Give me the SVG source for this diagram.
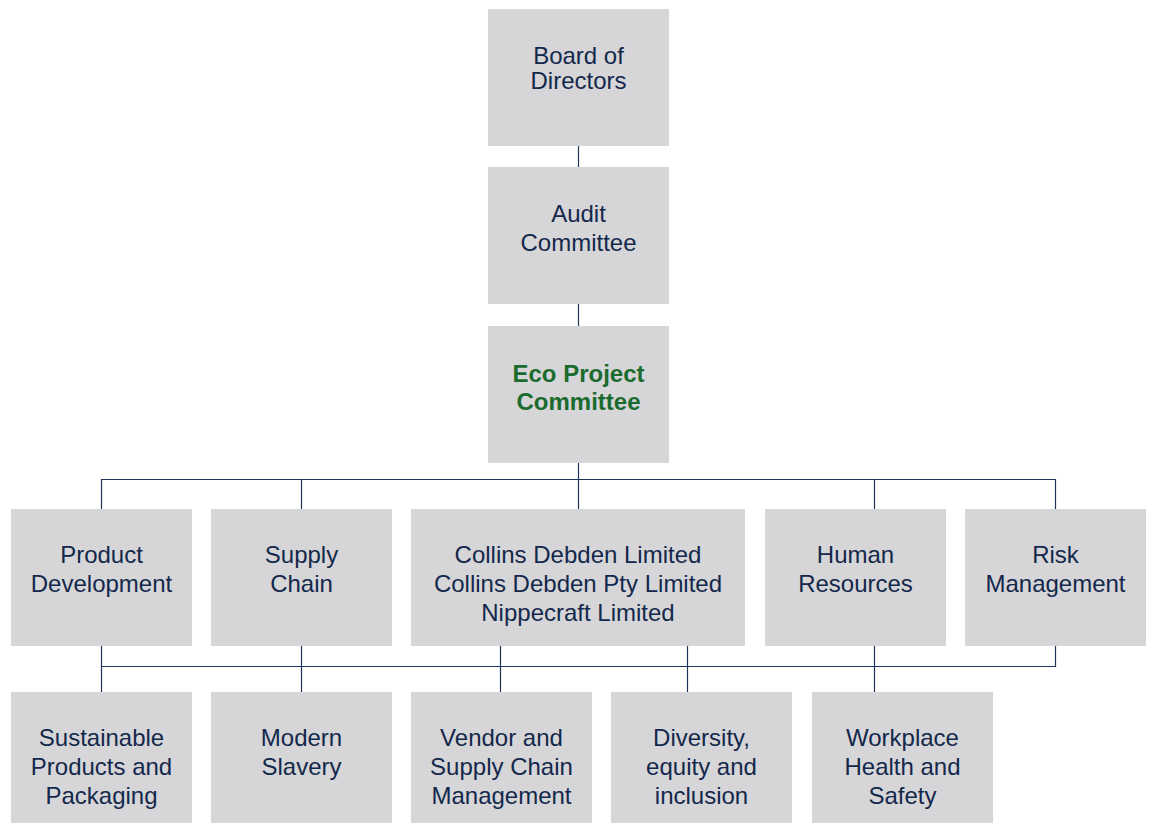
<svg xmlns="http://www.w3.org/2000/svg" width="1151" height="823" viewBox="0 0 1151 823">
  <style>
    .box { fill: #d6d6d8; }
    .lbl { font-family: "Liberation Sans", Arial, sans-serif; font-size: 24px; fill: #14284b; text-anchor: middle; }
    .eco { font-weight: bold; fill: #1b6b2f; }
    .wire { stroke: #1f3558; stroke-width: 1.2; fill: none; }
  </style>
  <rect width="1151" height="823" fill="#ffffff"/>

  <!-- connectors -->
  <g id="connectors">
    <path class="wire" d="M578.5 146 V167"/>
    <path class="wire" d="M578.5 304 V326"/>
    <path class="wire" d="M578.5 463 V509"/>
    <path class="wire" d="M101.5 509 V479.5 H1055.5 V509"/>
    <path class="wire" d="M301.5 479.5 V509"/>
    <path class="wire" d="M874.5 479.5 V509"/>
    <path class="wire" d="M101.5 646 V692"/>
    <path class="wire" d="M101.5 666.5 H1055.5 V646"/>
    <path class="wire" d="M301.5 646 V692"/>
    <path class="wire" d="M500.5 646 V692"/>
    <path class="wire" d="M687.5 646 V692"/>
    <path class="wire" d="M874.5 646 V692"/>
  </g>

  <!-- governance chain -->
  <g id="board">
    <rect class="box" x="488" y="9" width="181" height="137"/>
    <text class="lbl" x="578.5" y="64">Board of</text>
    <text class="lbl" x="578.5" y="89">Directors</text>
  </g>
  <g id="audit">
    <rect class="box" x="488" y="167" width="181" height="137"/>
    <text class="lbl" x="578.5" y="222">Audit</text>
    <text class="lbl" x="578.5" y="251">Committee</text>
  </g>
  <g id="eco">
    <rect class="box" x="488" y="326" width="181" height="137"/>
    <text class="lbl eco" x="578.5" y="382">Eco Project</text>
    <text class="lbl eco" x="578.5" y="410">Committee</text>
  </g>

  <!-- functions -->
  <g id="product-development">
    <rect class="box" x="11" y="509" width="181" height="137"/>
    <text class="lbl" x="101.5" y="563">Product</text>
    <text class="lbl" x="101.5" y="592">Development</text>
  </g>
  <g id="supply-chain">
    <rect class="box" x="211" y="509" width="181" height="137"/>
    <text class="lbl" x="301.5" y="563">Supply</text>
    <text class="lbl" x="301.5" y="592">Chain</text>
  </g>
  <g id="entities">
    <rect class="box" x="411" y="509" width="334" height="137"/>
    <text class="lbl" x="578" y="563">Collins Debden Limited</text>
    <text class="lbl" x="578" y="592">Collins Debden Pty Limited</text>
    <text class="lbl" x="578" y="621">Nippecraft Limited</text>
  </g>
  <g id="human-resources">
    <rect class="box" x="765" y="509" width="181" height="137"/>
    <text class="lbl" x="855.5" y="563">Human</text>
    <text class="lbl" x="855.5" y="592">Resources</text>
  </g>
  <g id="risk-management">
    <rect class="box" x="965" y="509" width="181" height="137"/>
    <text class="lbl" x="1055.5" y="563">Risk</text>
    <text class="lbl" x="1055.5" y="592">Management</text>
  </g>

  <!-- focus areas -->
  <g id="sustainable-products">
    <rect class="box" x="11" y="692" width="181" height="137"/>
    <text class="lbl" x="101.5" y="746">Sustainable</text>
    <text class="lbl" x="101.5" y="775">Products and</text>
    <text class="lbl" x="101.5" y="804">Packaging</text>
  </g>
  <g id="modern-slavery">
    <rect class="box" x="211" y="692" width="181" height="137"/>
    <text class="lbl" x="301.5" y="746">Modern</text>
    <text class="lbl" x="301.5" y="775">Slavery</text>
  </g>
  <g id="vendor-supply-chain">
    <rect class="box" x="411" y="692" width="181" height="137"/>
    <text class="lbl" x="501.5" y="746">Vendor and</text>
    <text class="lbl" x="501.5" y="775">Supply Chain</text>
    <text class="lbl" x="501.5" y="804">Management</text>
  </g>
  <g id="diversity">
    <rect class="box" x="611" y="692" width="181" height="137"/>
    <text class="lbl" x="701.5" y="746">Diversity,</text>
    <text class="lbl" x="701.5" y="775">equity and</text>
    <text class="lbl" x="701.5" y="804">inclusion</text>
  </g>
  <g id="workplace-health">
    <rect class="box" x="812" y="692" width="181" height="137"/>
    <text class="lbl" x="902.5" y="746">Workplace</text>
    <text class="lbl" x="902.5" y="775">Health and</text>
    <text class="lbl" x="902.5" y="804">Safety</text>
  </g>
</svg>
